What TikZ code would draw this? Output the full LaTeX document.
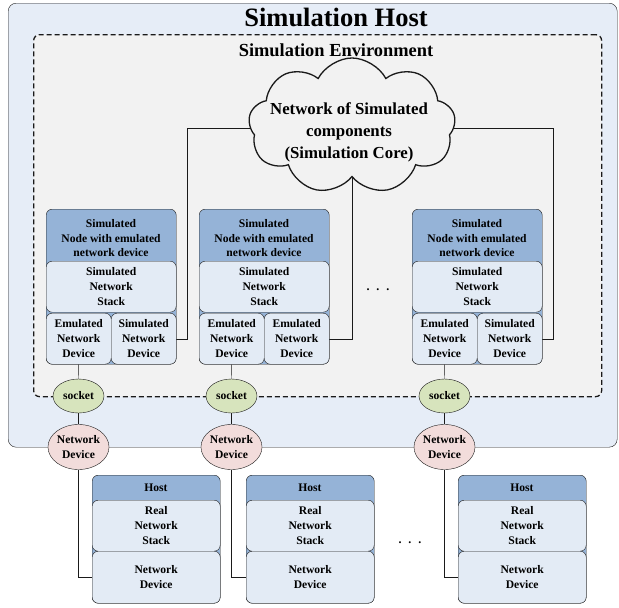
\documentclass[tikz,border=0pt]{standalone}
\usepackage{fontspec}
\setmainfont{Liberation Serif}
\usetikzlibrary{shapes.geometric,shapes.symbols}
\pgfdeclarelayer{back}
\pgfdeclarelayer{mid}
\pgfsetlayers{back,mid,main}
\definecolor{hostfill}{HTML}{E6EDF7}
\definecolor{envfill}{HTML}{F2F2F2}
\definecolor{hdrfill}{HTML}{95B3D7}
\definecolor{partfill}{HTML}{E3EBF5}
\definecolor{sockfill}{HTML}{D7E4BD}
\definecolor{ndfill}{HTML}{F2DCDB}
\definecolor{ink}{HTML}{1A1A1A}
\begin{document}
\begin{tikzpicture}[x=1pt,y=-1pt,
  line width=1.1pt, draw=ink,
  txt/.style={font=\fontsize{11.6}{14.5}\selectfont\bfseries, align=center, inner sep=0pt},
  shell/.style={draw=ink, fill=hdrfill, rounded corners=6pt, anchor=north west, inner sep=0pt},
  part/.style={draw=ink, fill=partfill, rounded corners=6pt, anchor=north west, inner sep=0pt,
    align=center, font=\fontsize{11.6}{15}\selectfont\bfseries},
  sock/.style={ellipse, draw=ink, fill=sockfill, minimum width=51pt, minimum height=34pt,
    inner sep=0pt, font=\fontsize{11.6}{14}\selectfont\bfseries},
  nd/.style={ellipse, draw=ink, fill=ndfill, minimum width=60pt, minimum height=45pt,
    inner sep=0pt, align=center, font=\fontsize{11.6}{15}\selectfont\bfseries},
  frame/.style={draw=ink, anchor=north west, inner sep=0pt},
]
\useasboundingbox (0,0) rectangle (619,608);

% host machine and the simulation environment inside it
\begin{pgfonlayer}{back}
  \node[frame, fill=hostfill, rounded corners=8pt, minimum width=609pt, minimum height=444pt] (host) at (8,3) {};
  \node[frame, fill=envfill, rounded corners=6pt, line width=1.3pt, dash pattern=on 5pt off 3pt,
    minimum width=568pt, minimum height=362pt] (env) at (33,34) {};
\end{pgfonlayer}

\node[font=\fontsize{26.5}{30}\selectfont\bfseries, inner sep=0pt] (ttl) at (336,17) {Simulation Host};
\node[font=\fontsize{18.4}{22}\selectfont\bfseries, inner sep=0pt] (envttl) at (336,50) {Simulation Environment};

% simulation core
\node[cloud, cloud puffs=9, cloud puff arc=125, draw=ink, line width=1.3pt, fill=envfill,
  minimum width=207pt, minimum height=136pt, inner sep=0pt] (core) at (352,126) {};
\node[font=\fontsize{16.8}{22}\selectfont\bfseries, align=center, inner sep=0pt] (coretxt) at (349,132)
  {Network of Simulated\\components\\(Simulation Core)};

% simulated nodes
\foreach \i/\L/\rt in {1/46/Simulated, 2/199/Emulated, 3/412/Simulated} {
  \node[shell, minimum width=130pt, minimum height=155pt] (sn\i) at (\L,209) {};
  \node[txt] (sh\i) at (\L+65,238.5) {Simulated\\Node with emulated\\network device};
  \node[part, minimum width=130pt, minimum height=51pt] (st\i) at (\L,261) {Simulated\\Network\\Stack};
  \node[part, minimum width=65pt, minimum height=51pt] (ed\i) at (\L,313) {Emulated\\Network\\Device};
  \node[part, minimum width=65pt, minimum height=51pt] (xd\i) at (\L+65,313) {\rt\\Network\\Device};
}

% real hosts
\foreach \i/\L in {1/92, 2/246, 3/458} {
  \node[shell, minimum width=128pt, minimum height=128pt] (hn\i) at (\L,475) {};
  \node[txt] (hh\i) at (\L+64,488) {Host};
  \node[part, minimum width=128pt, minimum height=51pt] (hs\i) at (\L,500) {Real\\Network\\Stack};
  \node[part, minimum width=128pt, minimum height=52pt] (hd\i) at (\L,551) {Network\\Device};
}

% sockets and physical network devices
\foreach \i/\X in {1/78.5, 2/231.5, 3/444.5} {
  \node[sock] (so\i) at (\X,396) {socket};
  \node[nd] (nd\i) at (\X,447) {Network\\Device};
}

\node[font=\fontsize{12}{12}\selectfont\bfseries, inner sep=0pt] (dots1) at (378,290) {.\hspace{7pt}.\hspace{7pt}.};
\node[font=\fontsize{12}{12}\selectfont\bfseries, inner sep=0pt] (dots2) at (410,543) {.\hspace{7pt}.\hspace{7pt}.};

% wiring
\coordinate (k1) at (187,128);
\coordinate (k3) at (553,128);
\begin{pgfonlayer}{mid}
  \draw[ink] (xd1.east) -| (k1) -- (k1 -| core.center);
  \draw[ink] (xd2.east) -| (core.center);
  \draw[ink] (xd3.east) -| (k3) -- (k3 -| core.center);
  \foreach \i in {1,2,3} {
    \draw[ink] (ed\i.south) -- (so\i.north);
    \draw[ink] (so\i.south) -- (nd\i.north);
    \draw[ink] (nd\i.south) |- (hd\i.west);
  }
\end{pgfonlayer}
\end{tikzpicture}
\end{document}
